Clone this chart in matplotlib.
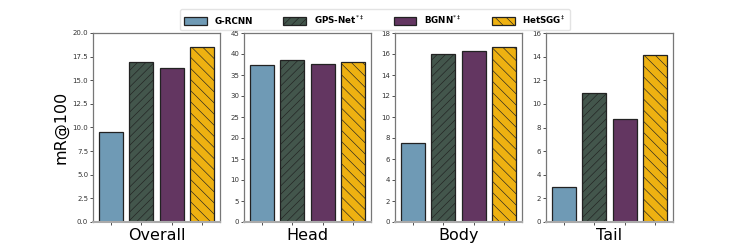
import matplotlib
matplotlib.use("Agg")
import matplotlib.pyplot as plt
import numpy as np

plt.rcParams["hatch.linewidth"] = 0.45

categories = ["Overall", "Head", "Body", "Tail"]
methods = ["G-RCNN", r"GPS-Net$^{*\ddagger}$", r"BGNN$^{*\ddagger}$", r"HetSGG$^{\ddagger}$"]
grcnn = [9.5, 37.5, 7.5, 3.0]
gpsnet = [16.9, 38.5, 16.0, 10.9]
bgnn = [16.3, 37.7, 16.3, 8.7]
hetsgg = [18.5, 38.1, 16.7, 14.1]
ylims = [20, 45, 18, 16]
ysteps = [2.5, 5, 2, 2]

colors = ["#6f9ab5", "#43564c", "#633661", "#eeb111"]
hatches = [None, "////", None, "\\\\\\"]

fig = plt.figure(figsize=(7.47, 2.48), dpi=100)
lefts = [93, 244, 395, 546]
series = [grcnn, gpsnet, bgnn, hetsgg]
handles = []
for i, cat in enumerate(categories):
    ax = fig.add_axes([lefts[i] / 747, 26 / 248, 127 / 747, 189 / 248])
    vals = [s[i] for s in series]
    x = np.arange(4)
    for j in range(4):
        b = ax.bar(x[j], vals[j], width=0.8, color=colors[j], edgecolor="#222222",
                   linewidth=0.9, hatch=hatches[j], label=methods[j])
        if i == 0:
            handles.append(b)
    ax.set_ylim(0, ylims[i])
    ticks = np.arange(0, ylims[i] + 0.001, ysteps[i])
    ax.set_yticks(ticks)
    if ysteps[i] == 2.5:
        ax.set_yticklabels([f"{v:.1f}" for v in ticks])
    ax.set_xticks(x)
    ax.set_xticklabels([])
    ax.tick_params(axis="both", labelsize=5, length=2, width=0.6, pad=1.5, colors="#333333")
    ax.set_xlabel(cat, fontsize=11.5, labelpad=1)
    for sp in ax.spines.values():
        sp.set_color("#777777")
        sp.set_linewidth(0.9)
    ax.spines["bottom"].set_color("#aaaaaa")
    ax.spines["bottom"].set_linewidth(1.5)
    if i == 0:
        ax.set_ylabel("mR@100", fontsize=11.5, labelpad=3)

leg = fig.legend(handles=handles, labels=methods, loc="upper center",
                 bbox_to_anchor=(0.502, 0.98), ncol=4, frameon=True,
                 prop={"weight": "bold", "size": 6.3}, handlelength=2.6,
                 handleheight=1.0, columnspacing=3.4, borderpad=0.5,
                 handletextpad=0.9, fancybox=True, edgecolor="#dddddd")

fig.savefig("out.png", dpi=100)
